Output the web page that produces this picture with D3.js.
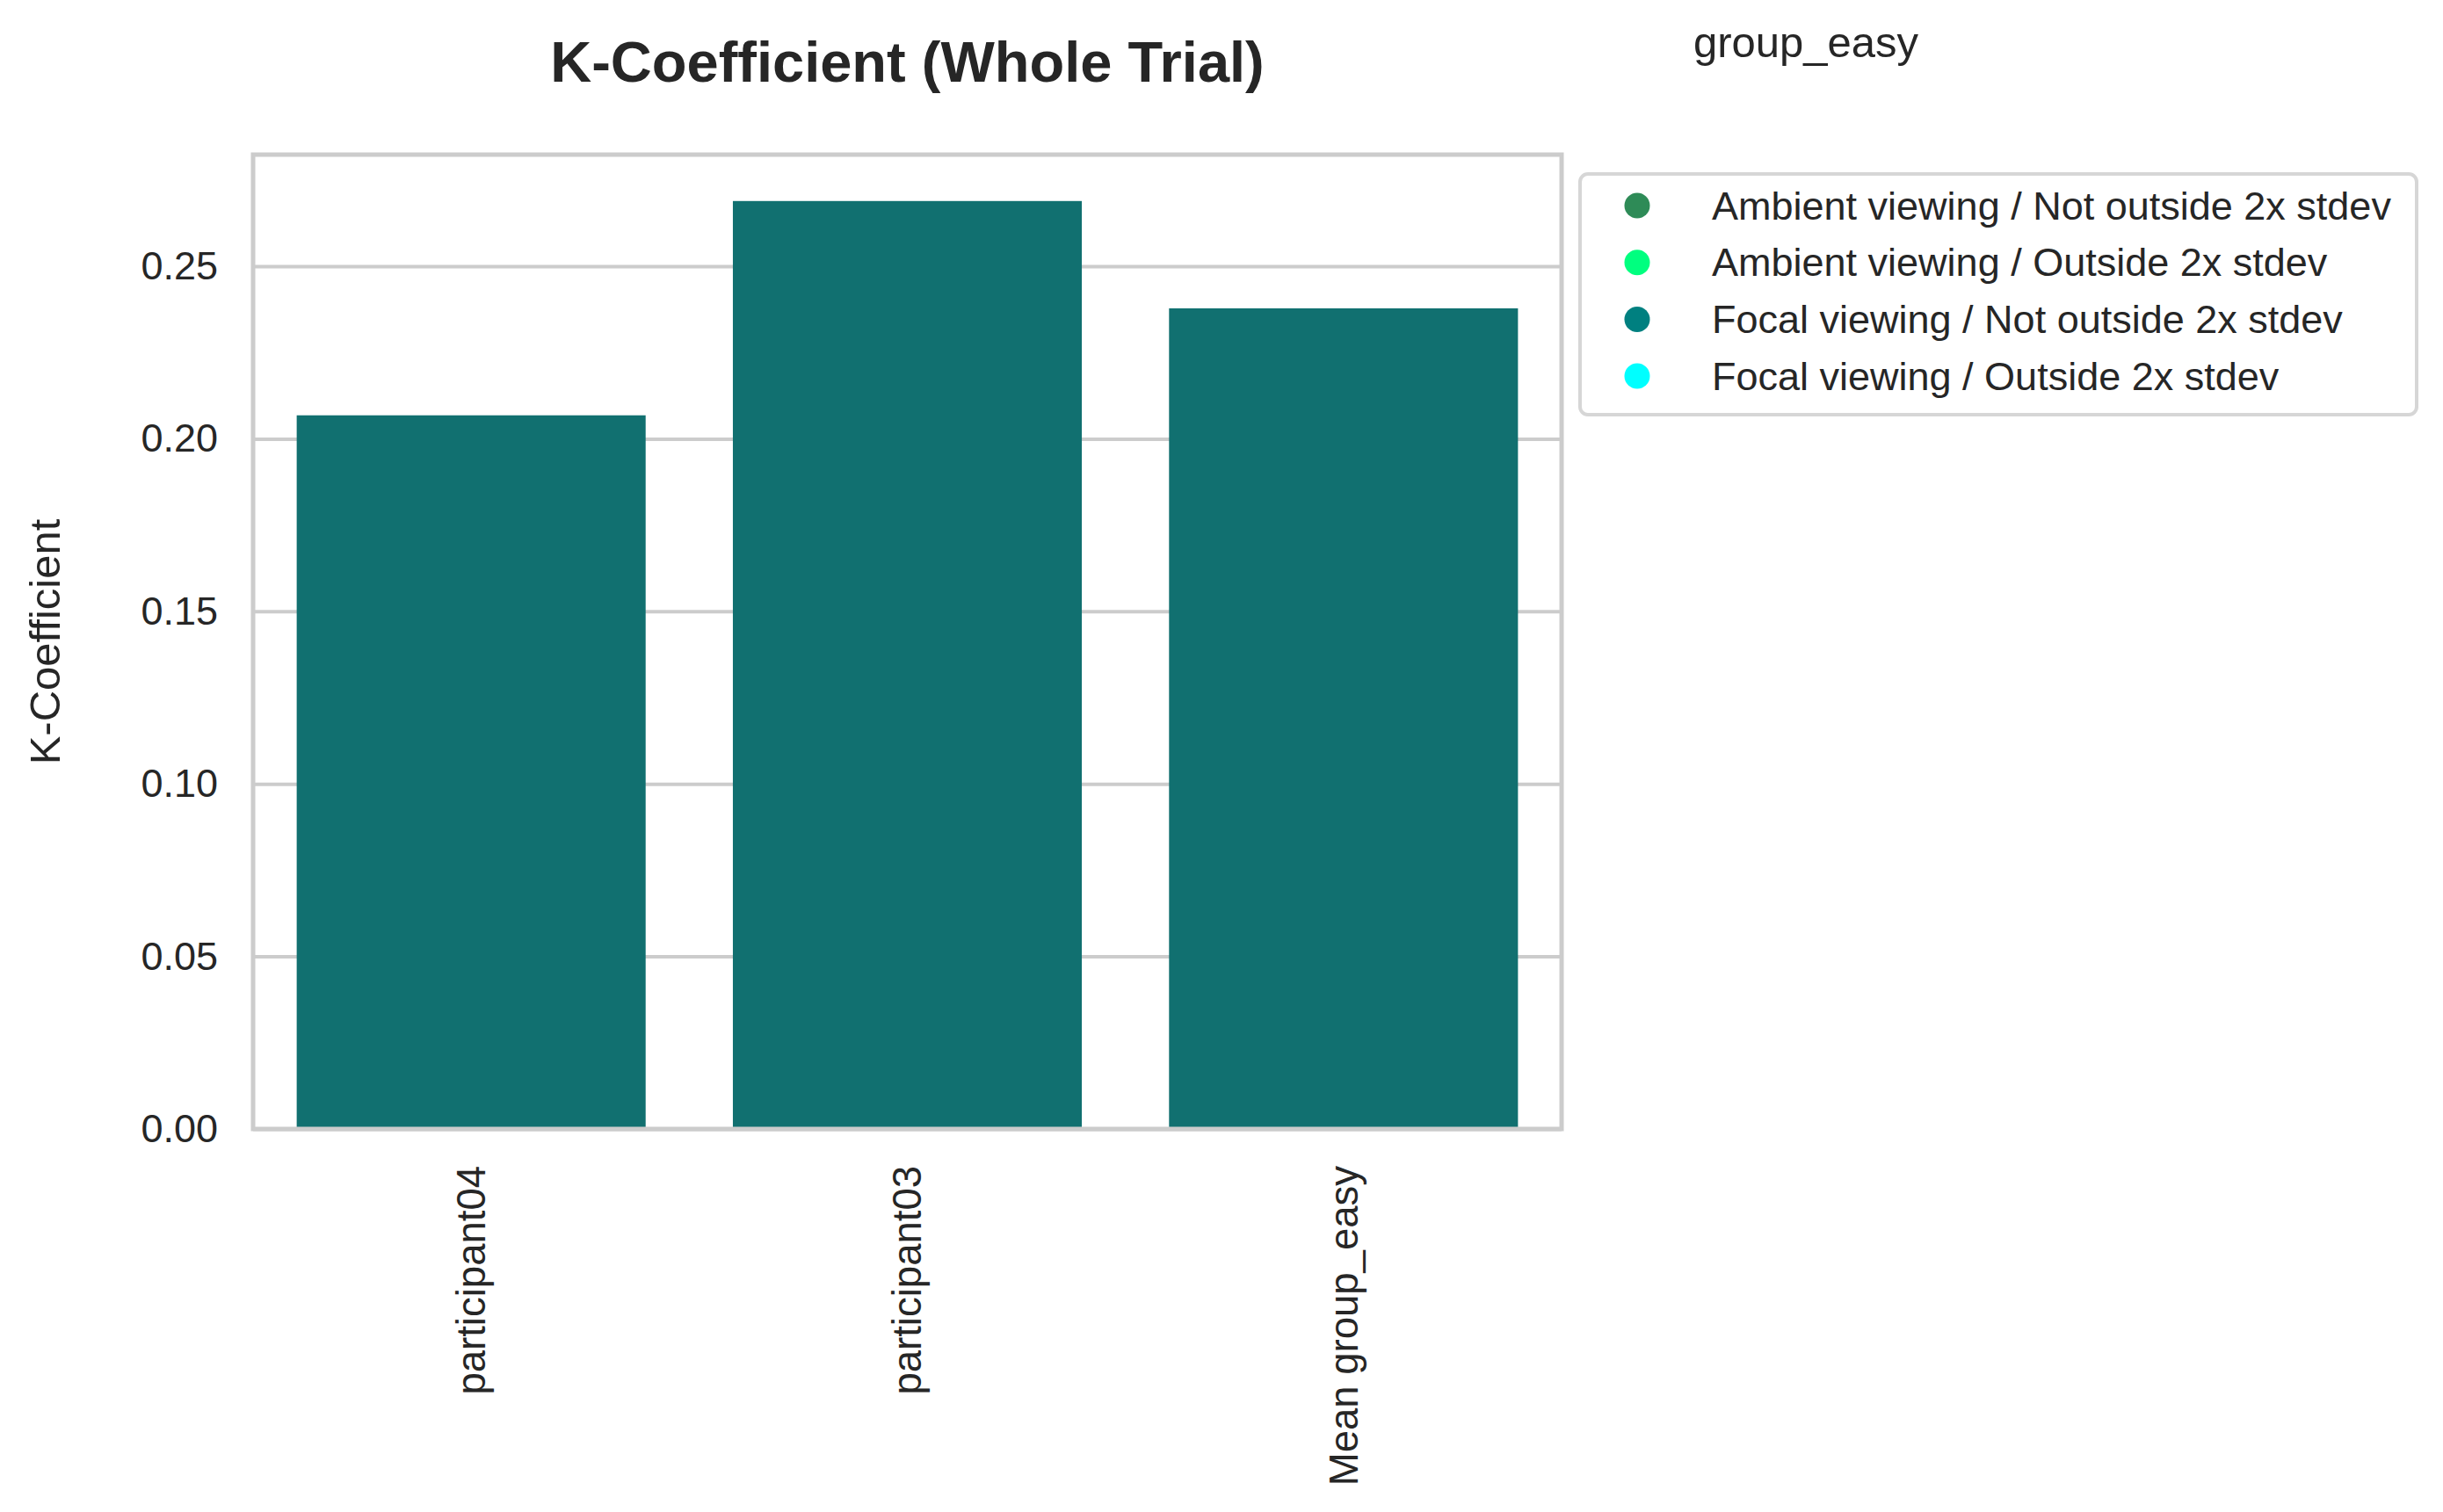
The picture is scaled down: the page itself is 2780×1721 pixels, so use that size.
<!DOCTYPE html>
<html>
<head>
<meta charset="utf-8">
<script src="https://cdn.jsdelivr.net/npm/d3@7"></script>
<style>
  body { margin: 0; background: #fff; }
  svg { display: block; font-family: "Liberation Sans", Arial, sans-serif; }
</style>
</head>
<body>
<svg id="chart" width="2780" height="1721"></svg>
<script>
  // values
  var categories = ["participant04", "participant03", "Mean group_easy"];
  var kValues = [0.2068, 0.2689, 0.2378];
  var yTicks = [0.00, 0.05, 0.10, 0.15, 0.20, 0.25];

  var legendLabels = [
    "Ambient viewing / Not outside 2x stdev",
    "Ambient viewing / Outside 2x stdev",
    "Focal viewing / Not outside 2x stdev",
    "Focal viewing / Outside 2x stdev"
  ];
  var legendColors = ["#2e8b57", "#00ff7f", "#008080", "#00ffff"];

  var barColor = "#117070";
  var textColor = "#262626";
  var gridColor = "#cccccc";

  var margin = { top: 176, left: 288 };
  var width = 1489, height = 1109;

  var svg = d3.select("#chart");

  var g = svg.append("g")
    .attr("transform", "translate(" + margin.left + "," + margin.top + ")");

  var x = d3.scaleBand()
    .domain(categories)
    .range([0, width])
    .paddingInner(0.2)
    .paddingOuter(0.1);

  var y = d3.scaleLinear()
    .domain([0, d3.max(kValues) * 1.05])
    .range([height, 0]);

  // y grid + tick labels
  var yAxis = g.append("g")
    .call(d3.axisLeft(y)
      .tickValues(yTicks)
      .tickFormat(d3.format(".2f"))
      .tickSize(-width)
      .tickPadding(40));

  yAxis.select(".domain").remove();
  yAxis.selectAll("line")
    .attr("stroke", gridColor)
    .attr("stroke-width", 4);
  yAxis.selectAll("text")
    .attr("fill", textColor)
    .style("font-size", "45px");

  // bars
  g.selectAll("rect.bar")
    .data(categories)
    .enter()
    .append("rect")
    .attr("class", "bar")
    .attr("x", function (d) { return x(d); })
    .attr("width", x.bandwidth())
    .attr("y", function (d, i) { return y(kValues[i]); })
    .attr("height", function (d, i) { return height - y(kValues[i]); })
    .attr("fill", barColor);

  // x tick labels, rotated
  var xAxis = g.append("g")
    .attr("transform", "translate(0," + height + ")")
    .call(d3.axisBottom(x).tickSize(0));

  xAxis.select(".domain").remove();
  xAxis.selectAll("text")
    .attr("fill", textColor)
    .style("font-size", "45.5px")
    .attr("text-anchor", "end")
    .attr("x", -42)
    .attr("y", 0)
    .attr("dy", "0.35em")
    .attr("transform", "rotate(-90)");

  // spines on top
  g.append("rect")
    .attr("x", 0)
    .attr("y", 0)
    .attr("width", width)
    .attr("height", height)
    .attr("fill", "none")
    .attr("stroke", gridColor)
    .attr("stroke-width", 5);

  // titles
  svg.append("text")
    .attr("x", margin.left + width / 2)
    .attr("y", 93)
    .attr("text-anchor", "middle")
    .attr("fill", textColor)
    .style("font-size", "65px")
    .style("font-weight", "bold")
    .text("K-Coefficient (Whole Trial)");

  svg.append("text")
    .attr("x", 1927)
    .attr("y", 65)
    .attr("fill", textColor)
    .style("font-size", "49px")
    .text("group_easy");

  svg.append("text")
    .attr("transform", "translate(68," + (margin.top + height / 2) + ") rotate(-90)")
    .attr("text-anchor", "middle")
    .attr("fill", textColor)
    .style("font-size", "49px")
    .text("K-Coefficient");

  // legend
  var legend = svg.append("g")
    .attr("transform", "translate(1798,198)");

  legend.append("rect")
    .attr("width", 952)
    .attr("height", 274)
    .attr("rx", 9)
    .attr("fill", "#fff")
    .attr("stroke", "#d6d6d6")
    .attr("stroke-width", 4);

  var rows = legend.selectAll("g.row")
    .data(legendLabels)
    .enter()
    .append("g")
    .attr("class", "row")
    .attr("transform", function (d, i) { return "translate(0," + (36 + i * 64.7) + ")"; });

  rows.append("circle")
    .attr("cx", 65)
    .attr("cy", 0)
    .attr("r", 14.5)
    .attr("fill", function (d, i) { return legendColors[i]; });

  rows.append("text")
    .attr("x", 150)
    .attr("y", 0)
    .attr("dy", "0.35em")
    .attr("fill", textColor)
    .style("font-size", "45px")
    .text(function (d) { return d; });
</script>
</body>
</html>
